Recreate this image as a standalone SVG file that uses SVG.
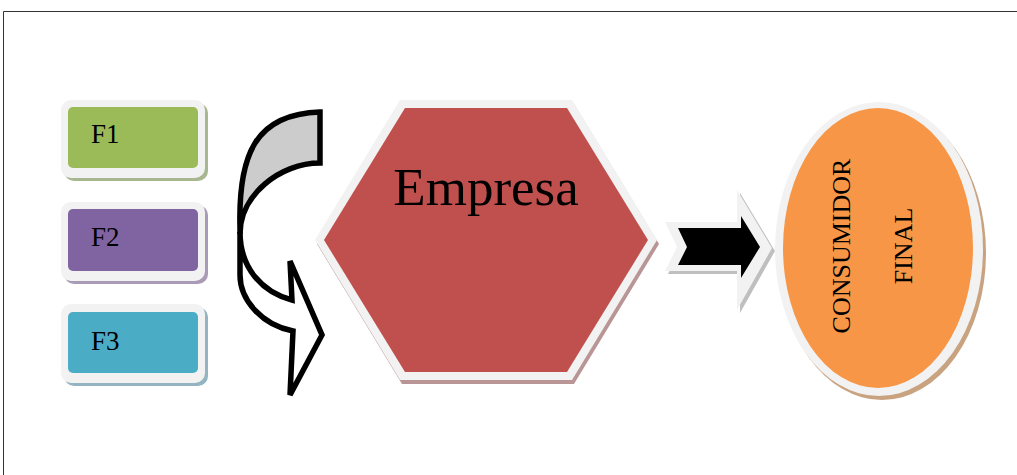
<svg xmlns="http://www.w3.org/2000/svg" width="1017" height="475" viewBox="0 0 1017 475">
<style>
.rim{fill:#f2f2f2}
.lbl{font-family:"Liberation Serif","DejaVu Serif",serif;fill:#000}
.curve{stroke:#000;stroke-width:5.5;stroke-linejoin:miter}
</style>
<rect x="0" y="0" width="1017" height="475" fill="#fff"/>
<g id="frame" fill="none" stroke="#333" stroke-width="1">
<path d="M3.5 475 V11.5 H1017"/>
</g>
<g id="F1">
<rect x="64" y="103" width="144" height="78" rx="10" fill="#a8b78f"/>
<rect class="rim" x="61" y="100" width="144" height="78" rx="10"/>
<rect x="68" y="107" width="130" height="61" rx="5" fill="#9bbb59"/>
<text class="lbl" x="91" y="143" font-size="27">F1</text>
</g>
<g id="F2">
<rect x="64" y="205" width="144" height="79" rx="10" fill="#a99bb6"/>
<rect class="rim" x="61" y="202" width="144" height="79" rx="10"/>
<rect x="68" y="209" width="130" height="62" rx="5" fill="#8064a2"/>
<text class="lbl" x="91" y="246" font-size="27">F2</text>
</g>
<g id="F3">
<rect x="64" y="307" width="144" height="79" rx="10" fill="#93b4c0"/>
<rect class="rim" x="61" y="304" width="144" height="79" rx="10"/>
<rect x="68" y="312" width="130" height="61" rx="5" fill="#4bacc6"/>
<text class="lbl" x="91" y="350" font-size="27">F3</text>
</g>
<g id="empresa">
<polygon points="402,104 574,104 659,244 574,384 402,384 317,244" fill="#b99595"/>
<polygon class="rim" points="400,100 572,100 657,240 572,380 400,380 315,240"/>
<polygon points="405,108 567,108 648,240 567,372 405,372 324,240" fill="#c0504d"/>
<text class="lbl" x="486" y="205" font-size="53" text-anchor="middle">Empresa</text>
</g>
<g id="consumidor">
<ellipse cx="882" cy="253" rx="104" ry="147" fill="#c9a27f"/>
<ellipse class="rim" cx="879" cy="249" rx="104" ry="147"/>
<ellipse cx="878" cy="248" rx="95" ry="140" fill="#f79646"/>
<text class="lbl" font-size="26" text-anchor="middle" transform="translate(850,246) rotate(-90)">CONSUMIDOR</text>
<text class="lbl" font-size="26" text-anchor="middle" transform="translate(912,246) rotate(-90)">FINAL</text>
</g>
<g id="connectors">
<g id="curved-arrow">
<path class="curve" fill="#cccccc" d="M320 112 C255 114 238 155 240 228 L240 234 C240 195 280 163 320 163 Z"/>
<path class="curve" fill="#ffffff" d="M240 232 C240 268 262 292 292 300 L290 261 L322 335 L290 395 L293 331 C262 325 240 300 240 275 Z"/>
</g>
<g id="block-arrow">
<polygon points="668,225 740,225 740,193 775,251 740,313 740,274 668,274 680,250" fill="#bfbfbf"/>
<polygon class="rim" points="665,222 737,222 737,190 772,248 737,310 737,271 665,271 677,247"/>
<polygon points="678,228 741,228 741,216 760,247 741,278 741,265 678,265 687,247" fill="#000"/>
</g>
</g>
</svg>
